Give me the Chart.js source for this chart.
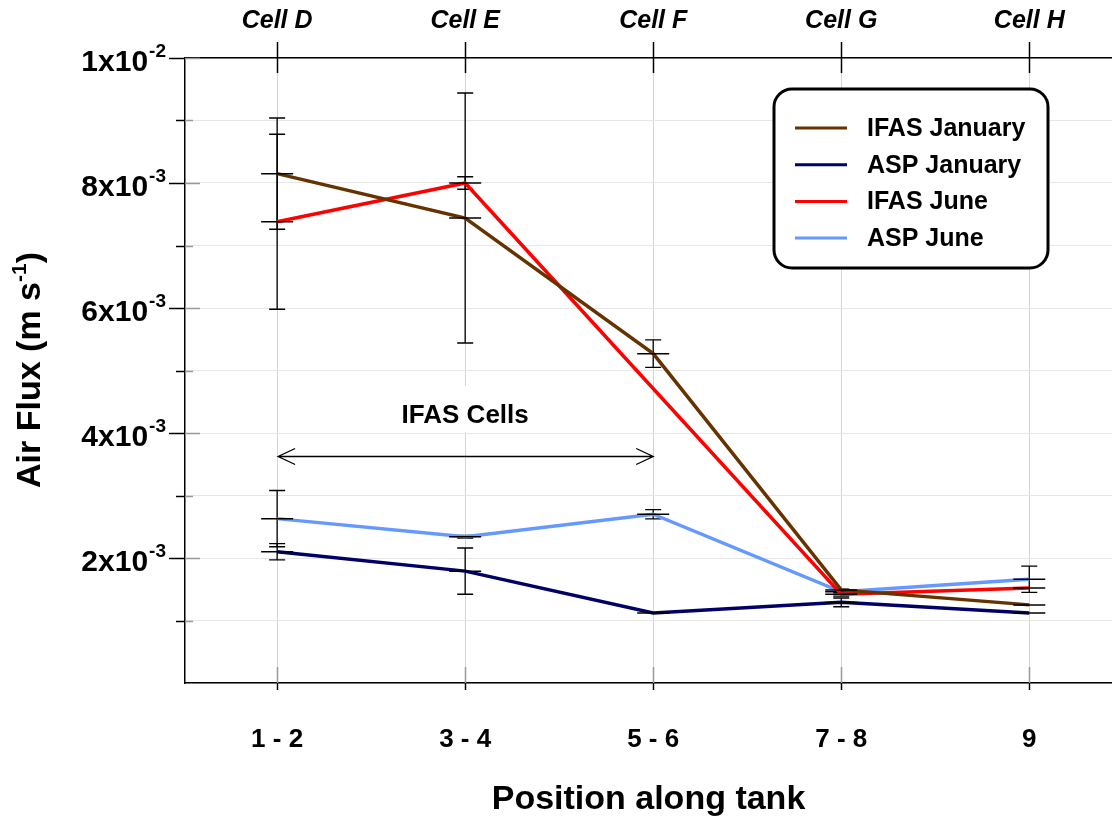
<!DOCTYPE html>
<html>
<head>
<meta charset="utf-8">
<script src="https://cdn.jsdelivr.net/npm/chart.js@4.4.1/dist/chart.umd.min.js"></script>
<style>
  html, body { margin: 0; padding: 0; background: #fff; }
  canvas { display: block; }
</style>
</head>
<body>
<canvas id="fluxChart" width="1112" height="823"></canvas>
<script>
const positions = ['1 - 2', '3 - 4', '5 - 6', '7 - 8', '9'];
const cells = ['Cell D', 'Cell E', 'Cell F', 'Cell G', 'Cell H'];

// air flux (m/s) and the +/- error
const ifasJanuary = [8.15e-3, 7.44e-3, 5.27e-3, 1.49e-3, 1.25e-3];
const ifasJanuaryErr = [0.89e-3, 2.0e-3, 0.22e-3, 0, 0];
const aspJanuary = [2.10e-3, 1.79e-3, 1.12e-3, 1.29e-3, 1.12e-3];
const aspJanuaryErr = [0.13e-3, 0.37e-3, 0, 0.07e-3, 0];
const ifasJune = [7.38e-3, 8.00e-3, null, 1.42e-3, 1.52e-3];
const ifasJuneErr = [1.40e-3, 0.10e-3, 0, 0.03e-3, 0];
const aspJune = [2.63e-3, 2.34e-3, 2.70e-3, 1.46e-3, 1.66e-3];
const aspJuneErr = [0.45e-3, 0.02e-3, 0.075e-3, 0.04e-3, 0.21e-3];

const yTickValues = [2e-3, 4e-3, 6e-3, 8e-3, 1e-2];
const yTickMantissa = ['2', '4', '6', '8', '1'];
const yTickExponent = ['-3', '-3', '-3', '-3', '-2'];

const FONT = '"Liberation Sans", Arial, sans-serif';
Chart.defaults.font.family = FONT;
Chart.defaults.color = '#000';

const series = [
    { label: 'IFAS January', values: ifasJanuary, err: ifasJanuaryErr, color: '#663300' },
    { label: 'ASP January', values: aspJanuary, err: aspJanuaryErr, color: '#000066' },
    { label: 'IFAS June', values: ifasJune, err: ifasJuneErr, color: '#ff0000' },
    { label: 'ASP June', values: aspJune, err: aspJuneErr, color: '#6699ff' }
];

const toPoints = vals => vals.map((v, i) => ({ x: i, y: v }));

// vertical error bars, drawn under the lines
const errorBars = {
    id: 'errorBars',
    beforeDatasetsDraw(chart) {
        const { ctx, scales: { x, y } } = chart;
        ctx.save();
        ctx.strokeStyle = '#000';
        ctx.lineWidth = 1.3;
        series.forEach(s => {
            s.values.forEach((v, i) => {
                const e = s.err[i];
                if (v === null || !e) return;
                const px = x.getPixelForValue(i);
                const top = y.getPixelForValue(v + e);
                const bot = y.getPixelForValue(v - e);
                ctx.beginPath();
                ctx.moveTo(px, top); ctx.lineTo(px, bot);
                ctx.moveTo(px - 8, top); ctx.lineTo(px + 8, top);
                ctx.moveTo(px - 8, bot); ctx.lineTo(px + 8, bot);
                ctx.stroke();
            });
        });
        ctx.restore();
    }
};

// tick marks crossing the frame, y tick labels with exponents, y title
const frame = {
    id: 'frame',
    beforeDatasetsDraw(chart) {
        const { ctx, chartArea: a, scales: { x, y } } = chart;
        ctx.save();
        ctx.lineWidth = 1.5;
        for (let k = 1; k <= 10; k++) {
            const py = Math.round(y.getPixelForValue(k * 1e-3)) + 0.5;
            const major = k % 2 === 0;
            ctx.strokeStyle = '#000';
            ctx.beginPath(); ctx.moveTo(a.left - (major ? 16 : 9), py); ctx.lineTo(a.left, py); ctx.stroke();
            ctx.strokeStyle = '#999';
            ctx.beginPath(); ctx.moveTo(a.left, py); ctx.lineTo(a.left + (major ? 15 : 8), py); ctx.stroke();
        }
        positions.forEach((p, i) => {
            const px = Math.round(x.getPixelForValue(i)) + 0.5;
            ctx.strokeStyle = '#000';
            ctx.beginPath(); ctx.moveTo(px, a.top - 16); ctx.lineTo(px, a.top + 15); ctx.stroke();
            ctx.strokeStyle = '#999';
            ctx.beginPath(); ctx.moveTo(px, a.bottom - 16); ctx.lineTo(px, a.bottom); ctx.stroke();
            ctx.strokeStyle = '#000';
            ctx.beginPath(); ctx.moveTo(px, a.bottom); ctx.lineTo(px, a.bottom + 7); ctx.stroke();
        });
        ctx.restore();
    },
    afterDraw(chart) {
        const { ctx, chartArea: a, scales: { x, y } } = chart;
        ctx.save();
        ctx.fillStyle = '#000';
        ctx.textBaseline = 'alphabetic';
        ctx.textAlign = 'left';
        const base = 'bold 30px ' + FONT, sup = 'bold 19px ' + FONT;
        yTickValues.forEach((v, i) => {
            const py = y.getPixelForValue(v);
            const m = yTickMantissa[i] + 'x10', ex = yTickExponent[i];
            ctx.font = base; const w1 = ctx.measureText(m).width;
            ctx.font = sup; const w2 = ctx.measureText(ex).width;
            const x0 = a.left - 20 - w1 - w2;
            ctx.font = base; ctx.fillText(m, x0, py + 13);
            ctx.font = sup; ctx.fillText(ex, x0 + w1 + 1, py - 1);
        });

        // y title with superscript
        ctx.translate(28, 370);
        ctx.rotate(-Math.PI / 2);
        const tb = 'bold 34px ' + FONT, ts = 'bold 21px ' + FONT;
        const parts = [['Air Flux (m s', tb, 12], ['-1', ts, -2], [')', tb, 12]];
        let total = 0;
        parts.forEach(p => { ctx.font = p[1]; total += ctx.measureText(p[0]).width; });
        let cx = -total / 2;
        parts.forEach(p => { ctx.font = p[1]; ctx.fillText(p[0], cx, p[2]); cx += ctx.measureText(p[0]).width; });
        ctx.restore();

        // IFAS Cells annotation
        ctx.save();
        const lx = x.getPixelForValue(1), ly = y.getPixelForValue(4.27e-3);
        ctx.fillStyle = '#fff';
        ctx.fillRect(lx - 77, ly - 30, 160, 46);
        ctx.fillStyle = '#000';
        ctx.font = 'bold 26px ' + FONT;
        ctx.textAlign = 'center';
        ctx.textBaseline = 'middle';
        ctx.fillText('IFAS Cells', lx, ly);
        const ay = Math.round(y.getPixelForValue(3.63e-3)) + 0.5;
        const ax0 = x.getPixelForValue(0) + 1, ax1 = x.getPixelForValue(2);
        ctx.strokeStyle = '#000';
        ctx.lineWidth = 1.3;
        ctx.beginPath();
        ctx.moveTo(ax0, ay); ctx.lineTo(ax1, ay);
        ctx.moveTo(ax0 + 17, ay - 8); ctx.lineTo(ax0, ay); ctx.lineTo(ax0 + 17, ay + 8);
        ctx.moveTo(ax1 - 17, ay - 8); ctx.lineTo(ax1, ay); ctx.lineTo(ax1 - 17, ay + 8);
        ctx.stroke();
        ctx.restore();

        // legend box
        ctx.save();
        ctx.fillStyle = '#fff';
        ctx.strokeStyle = '#000';
        ctx.lineWidth = 3;
        ctx.beginPath();
        ctx.roundRect(774, 89, 274, 179, 18);
        ctx.fill();
        ctx.stroke();
        ctx.font = 'bold 25px ' + FONT;
        ctx.textBaseline = 'middle';
        ctx.textAlign = 'left';
        chart.data.datasets.forEach((ds, i) => {
            const ry = 128 + i * 36.7;
            ctx.strokeStyle = ds.borderColor;
            ctx.lineWidth = 3;
            ctx.beginPath(); ctx.moveTo(795, ry); ctx.lineTo(847, ry); ctx.stroke();
            ctx.fillStyle = '#000';
            ctx.fillText(ds.label, 867, ry + 1);
        });
        ctx.restore();
    }
};

const ctx = document.getElementById('fluxChart').getContext('2d');
new Chart(ctx, {
    type: 'line',
    data: {
        datasets: series.map(s => ({
            label: s.label,
            data: toPoints(s.values),
            borderColor: s.color,
            backgroundColor: s.color,
            borderWidth: 3.5,
            pointStyle: 'line',
            pointRadius: 16,
            pointBorderColor: '#000',
            pointBorderWidth: 1.5,
            spanGaps: true,
            tension: 0
        }))
    },
    options: {
        responsive: false,
        animation: false,
        devicePixelRatio: 1,
        layout: { padding: 0, autoPadding: false },
        plugins: { legend: { display: false }, tooltip: { enabled: false } },
        scales: {
            x: {
                type: 'linear',
                position: 'bottom',
                min: -0.49,
                max: 4.44,
                afterBuildTicks: s => { s.ticks = positions.map((p, i) => ({ value: i })); },
                afterFit: s => { s.height = 140; },
                ticks: {
                    callback: v => positions[v],
                    font: { size: 26, weight: 'bold' },
                    padding: 41,
                    maxRotation: 0
                },
                grid: { color: '#d4d4d4', drawTicks: false },
                border: { color: '#000', width: 1.5 },
                title: {
                    display: true,
                    text: 'Position along tank',
                    font: { size: 34, weight: 'bold' },
                    padding: { top: 0, bottom: 3 }
                }
            },
            x2: {
                type: 'linear',
                position: 'top',
                min: -0.49,
                max: 4.44,
                afterBuildTicks: s => { s.ticks = cells.map((c, i) => ({ value: i })); },
                afterFit: s => { s.height = 58; },
                ticks: {
                    callback: v => cells[v],
                    font: { size: 25, weight: 'bold', style: 'italic' },
                    padding: 22,
                    maxRotation: 0
                },
                grid: { drawOnChartArea: false, drawTicks: false },
                border: { color: '#000', width: 1.5 }
            },
            y: {
                min: 0,
                max: 0.01,
                afterFit: s => { s.width = 185; },
                ticks: { stepSize: 0.001, display: false },
                grid: { color: '#e6e6e6', drawTicks: false },
                border: { color: '#000', width: 1.5 }
            }
        }
    },
    plugins: [errorBars, frame]
});
</script>
</body>
</html>
